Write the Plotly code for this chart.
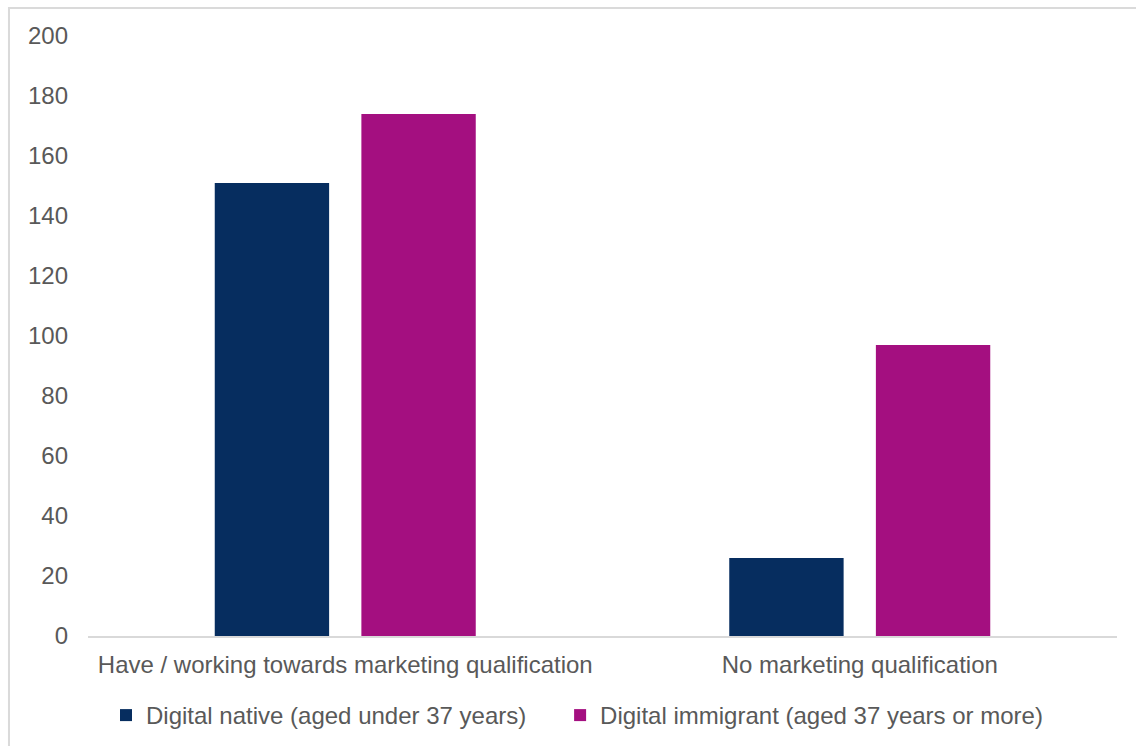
import plotly.graph_objects as go

# Survey counts by qualification status and age group
categories = ["Have / working towards marketing qualification", "No marketing qualification"]
series_names = ["Digital native (aged under 37 years)", "Digital immigrant (aged 37 years or more)"]
digital_native = [151, 26]
digital_immigrant = [174, 97]
y_ticks = [0, 20, 40, 60, 80, 100, 120, 140, 160, 180, 200]

NAVY = "#062d5f"
MAGENTA = "#a40f80"
TEXT = "#595959"
FONT = "Liberation Sans, Arial, sans-serif"

fig = go.Figure()
fig.add_trace(go.Bar(name=series_names[0], x=categories, y=digital_native,
                     marker=dict(color=NAVY, line=dict(width=0)), legend="legend"))
fig.add_trace(go.Bar(name=series_names[1], x=categories, y=digital_immigrant,
                     marker=dict(color=MAGENTA, line=dict(width=0)), legend="legend2"))

legend_style = dict(orientation="h", xanchor="left", y=-0.1325, yanchor="middle",
                    font=dict(size=24, color=TEXT), itemclick=False,
                    bgcolor="rgba(0,0,0,0)")

fig.update_layout(
    width=1136, height=746,
    margin=dict(l=88, r=19, t=36, b=110, autoexpand=False),
    paper_bgcolor="white", plot_bgcolor="white",
    barmode="group", bargap=0.43, bargroupgap=0.22,
    font=dict(family=FONT, color=TEXT, size=24),
    showlegend=True,
    legend=dict(x=0.0175, **legend_style),
    legend2=dict(x=0.4588, **legend_style),
    xaxis=dict(showline=True, linecolor="#d9d9d9", linewidth=2, ticks="",
               showgrid=False, tickfont=dict(size=24, color=TEXT), ticklabelstandoff=6),
    yaxis=dict(range=[0, 200], tickvals=y_ticks, showgrid=False, zeroline=False,
               showline=False, ticks="", tickfont=dict(size=24, color=TEXT),
               ticklabelstandoff=19),
    shapes=[dict(type="rect", xref="paper", yref="paper",
                 x0=-0.0768, x1=1.3, y0=-0.5, y1=1.0466,
                 line=dict(color="#dadada", width=2), fillcolor="rgba(0,0,0,0)",
                 layer="below")],
)

fig.write_html("out.html")
